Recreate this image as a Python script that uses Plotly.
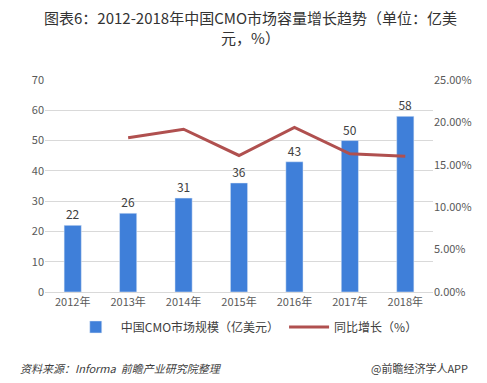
import plotly.graph_objects as go

years = ["2012年", "2013年", "2014年", "2015年", "2016年", "2017年", "2018年"]
market_size = [22, 26, 31, 36, 43, 50, 58]
growth_years = ["2013年", "2014年", "2015年", "2016年", "2017年", "2018年"]
growth_rate = [0.182, 0.192, 0.161, 0.194, 0.163, 0.160]

FONT = "Noto Sans CJK SC"
fig = go.Figure()
fig.add_trace(go.Bar(
    x=years, y=market_size, name="中国CMO市场规模（亿美元）",
    marker_color="#3f7fd9", text=[str(v) for v in market_size],
    textposition="outside", textfont=dict(size=12, color="#404040"),
    cliponaxis=False, yaxis="y"))
fig.add_trace(go.Scatter(
    x=growth_years, y=growth_rate, name="同比增长（%）", mode="lines",
    line=dict(color="#b0504f", width=3), yaxis="y2"))

fig.update_layout(
    width=487, height=383,
    paper_bgcolor="white", plot_bgcolor="white",
    margin=dict(l=37, r=62, t=72, b=99),
    font=dict(family=FONT, color="#595959", size=11),
    bargap=0.69,
    xaxis=dict(showgrid=False, showline=True, linecolor="#d9d9d9", ticks="",
               tickfont=dict(size=11, color="#595959")),
    yaxis=dict(range=[0, 70], dtick=10, showgrid=True, gridcolor="#d9d9d9",
               zeroline=False, tickfont=dict(size=11, color="#595959")),
    yaxis2=dict(range=[0, 0.25], dtick=0.05, tickformat=".2%", overlaying="y",
                side="right", showgrid=False, zeroline=False,
                tickfont=dict(size=11, color="#595959")),
    legend=dict(orientation="h", x=0.52, xanchor="center", y=-0.165, yanchor="middle",
                font=dict(size=12, color="#404040"), itemwidth=40),
    annotations=[
        dict(text="图表6：2012-2018年中国CMO市场容量增长趋势（单位：亿美<br>元，%）",
             xref="paper", yref="paper", x=0.53, y=1.355, xanchor="center", yanchor="top",
             showarrow=False, align="center",
             font=dict(size=15, color="#333333", family=FONT)),
        dict(text="<i>资料来源：Informa  前瞻产业研究院整理</i>", xref="paper", yref="paper",
             x=-0.07, y=-0.36, xanchor="left", yanchor="middle", showarrow=False,
             font=dict(size=11, color="#404040")),
        dict(text="@前瞻经济学人APP", xref="paper", yref="paper",
             x=1.095, y=-0.36, xanchor="right", yanchor="middle", showarrow=False,
             font=dict(size=11, color="#404040")),
    ],
)
fig.write_html("out.html")
